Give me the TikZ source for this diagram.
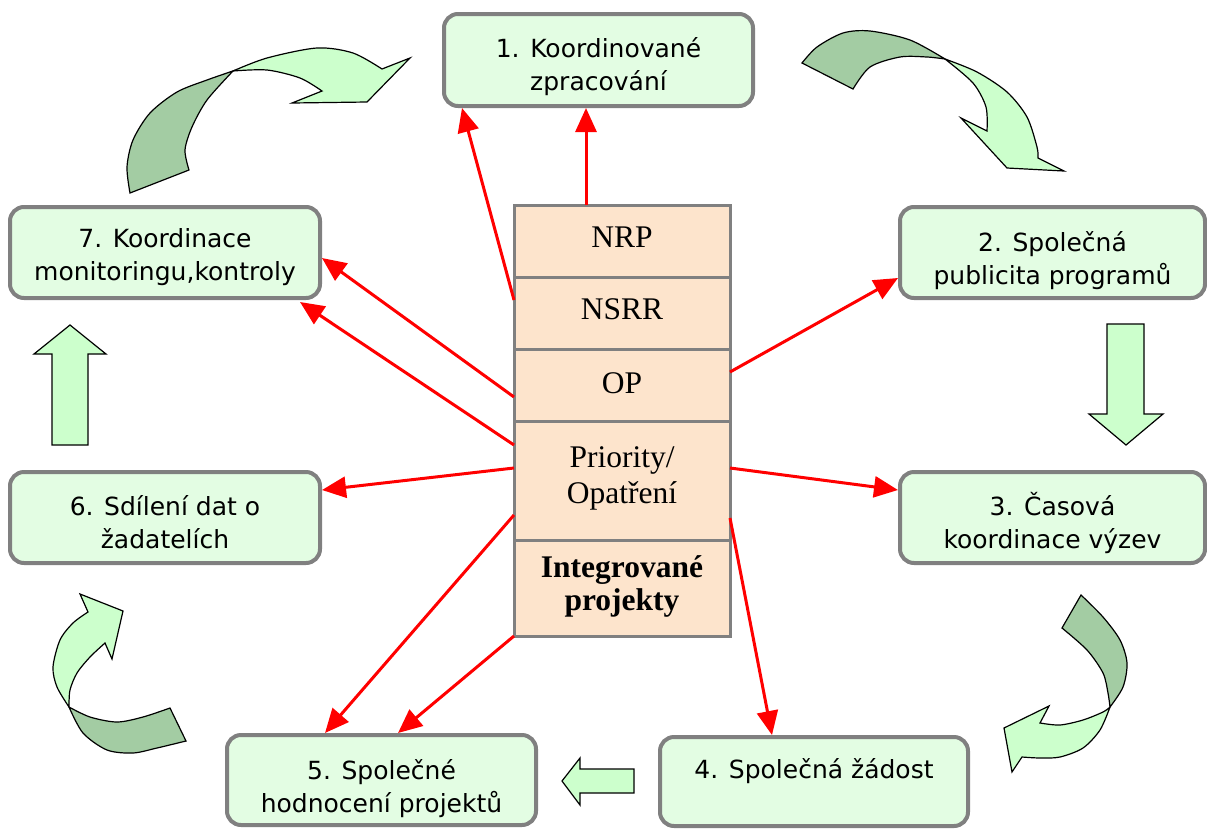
\documentclass[tikz,border=0pt]{standalone}
\usepackage{fontspec}
\setmainfont{Liberation Serif}
\newfontfamily\boxfont{DejaVu Sans}
\usetikzlibrary{arrows.meta}
\definecolor{boxfill}{HTML}{E3FDE3}
\definecolor{boxgray}{HTML}{808080}
\definecolor{peach}{HTML}{FDE4CC}
\definecolor{lightgr}{HTML}{CCFFCC}
\definecolor{darkgr}{HTML}{A3CCA3}
\definecolor{redline}{HTML}{FF0000}
\begin{document}
\begin{tikzpicture}[x=1pt,y=-1pt,
  box/.style={draw=boxgray, line width=4pt, rounded corners=14pt, fill=boxfill, inner sep=0pt, outer sep=0pt},
  lbl/.style={font=\boxfont\fontsize{25}{32.5}\selectfont, align=center, anchor=base, inner sep=0pt},
  stk/.style={draw=boxgray, line width=3pt, fill=peach, minimum width=216pt, inner sep=0pt, outer sep=0pt},
  stl/.style={font=\fontsize{31.5}{36}\selectfont, align=center, anchor=base, inner sep=0pt},
  red/.style={draw=redline, line width=3pt, -{Triangle[length=24pt,width=21pt]}},
  blk/.style={draw=black, line width=1.2pt, fill=lightgr, line join=miter},
  blkd/.style={draw=black, line width=1.2pt, fill=darkgr, line join=miter}
]
\useasboundingbox (0,0) rectangle (1207,828);

% boxes
\node[box, minimum width=309pt, minimum height=92pt] (b1) at (598.5,60) {};
\node[box, minimum width=305pt, minimum height=91pt] (b2) at (1052.5,252.5) {};
\node[box, minimum width=305pt, minimum height=91pt] (b3) at (1052.5,517.5) {};
\node[box, minimum width=308pt, minimum height=89pt] (b4) at (814,781.5) {};
\node[box, minimum width=309pt, minimum height=90pt] (b5) at (381.5,780) {};
\node[box, minimum width=310pt, minimum height=91pt] (b6) at (165,517.5) {};
\node[box, minimum width=310pt, minimum height=91pt] (b7) at (165,252.5) {};

\node[lbl] (t1) at (598.5,90) {1. Koordinované\\zpracování};
\node[lbl] (t2) at (1052.5,284) {2. Společná\\publicita programů};
\node[lbl] (t3) at (1052.5,548) {3. Časová\\koordinace výzev};
\node[lbl] (t4) at (814,778) {4. Společná žádost};
\node[lbl] (t5) at (381.5,812) {5. Společné\\hodnocení projektů};
\node[lbl] (t6) at (165,548) {6. Sdílení dat o\\žadatelích};
\node[lbl] (t7) at (165,280) {7. Koordinace\\monitoringu,kontroly};

% stack
\node[stk, minimum height=72pt] (r1) at (622,241) {};
\node[stk, minimum height=72pt] (r2) at (622,313) {};
\node[stk, minimum height=72pt] (r3) at (622,385) {};
\node[stk, minimum height=119pt] (r4) at (622,480.5) {};
\node[stk, minimum height=96pt] (r5) at (622,588) {};
\node[stl] (s1) at (622,247) {NRP};
\node[stl] (s2) at (622,319) {NSRR};
\node[stl] (s3) at (622,393) {OP};
\node[stl] (s4) at (622,503) {Priority/\\Opatření};
\node[stl, font=\bfseries\fontsize{31.5}{33}\selectfont] (s5) at (622,610) {Integrované\\projekty};

% red connectors
\draw[red] ([xshift=-36pt]r1.north) -- ([xshift=-12.5pt,yshift=-2pt]b1.south);
\draw[red] ([yshift=-23pt]r2.north west) -- ([xshift=18pt,yshift=-2pt]b1.south west);
\draw[red] ([yshift=-48pt]r3.north west) -- ([xshift=2pt,yshift=-5.5pt]b7.east);
\draw[red] ([yshift=-24pt]r4.north west) -- ([xshift=-20pt,yshift=-4pt]b7.south east);
\draw[red] ([yshift=-47pt]r4.north west) -- ([xshift=2pt,yshift=27.5pt]b6.east);
\draw[red] ([yshift=-94pt]r4.north west) -- ([xshift=98pt,yshift=2pt]b5.north west);
\draw[red] (r5.south west) -- ([xshift=171pt,yshift=2pt]b5.north west);
\draw[red] ([yshift=-23pt]r3.north east) -- ([xshift=-2pt,yshift=-25.5pt]b2.west);
\draw[red] ([yshift=-47pt]r4.north east) -- ([xshift=-2pt,yshift=27.5pt]b3.west);
\draw[red] ([yshift=-97pt]r4.north east) -- ([xshift=112pt,yshift=2pt]b4.north west);

% straight block arrows
\draw[blk] (1107,324) -- (1144,324) -- (1144,414) -- (1163,414) -- (1126,445) -- (1089,414) -- (1107,414) -- cycle;
\draw[blk] (52,445) -- (88,445) -- (88,354) -- (106,354) -- (70,325) -- (34,354) -- (52,354) -- cycle;
\draw[blk] (634,769) -- (634,793) -- (580,793) -- (580,805) -- (562,781) -- (580,758) -- (580,769) -- cycle;

% curved arrow top-left
\draw[blkd] (130,193) -- plot[smooth] coordinates {(130,193) (127,167) (133,140) (150,113) (177,92) (207,80) (233,71)}
  -- plot[smooth] coordinates {(233,71) (207,100) (192,127) (185,150) (189,170)} -- cycle;
\draw[blk] plot[smooth] coordinates {(233,71) (267,58) (317,48) (353,53) (382,69)}
  -- (410,58) -- (367,102) -- (292,103) -- (322,91)
  -- plot[smooth] coordinates {(322,91) (300,78) (267,70) (233,71)} -- cycle;

% curved arrow top-right
\draw[blkd] plot[smooth] coordinates {(802,63) (817,47) (843,33) (870,31) (910,40) (945,59)}
  -- plot[smooth] coordinates {(945,59) (927,57) (900,57) (870,67) (853,89)} -- cycle;
\draw[blk] plot[smooth] coordinates {(945,59) (977,72) (1007,92) (1027,117) (1037,147) (1038,158)}
  -- (1064,171) -- (1007,168) -- (961,118) -- (987,131)
  -- plot[smooth] coordinates {(987,131) (986,107) (973,83) (945,59)} -- cycle;

% curved arrow bottom-right
\draw[blkd] plot[smooth] coordinates {(1081,595) (1103,617) (1120,640) (1127,663) (1123,687) (1110,707)}
  -- plot[smooth] coordinates {(1110,707) (1108,693) (1103,673) (1087,650) (1062,628)} -- cycle;
\draw[blk] plot[smooth] coordinates {(1110,707) (1100,730) (1083,748) (1060,757) (1040,758) (1022,757)}
  -- (1012,772) -- (1004,728) -- (1049,706) -- (1040,723)
  -- plot[smooth] coordinates {(1040,723) (1060,725) (1083,720) (1103,712) (1110,707)} -- cycle;

% curved arrow bottom-left
\draw[blkd] plot[smooth] coordinates {(186,741) (157,748) (133,753) (107,750) (83,733) (69,707)}
  -- plot[smooth] coordinates {(69,707) (90,717) (117,722) (143,717) (170,708)} -- cycle;
\draw[blk] plot[smooth] coordinates {(69,707) (57,687) (53,667) (60,640) (73,623) (88,612)}
  -- (80,594) -- (123,611) -- (112,659) -- (105,643)
  -- plot[smooth] coordinates {(105,643) (90,657) (77,673) (70,690) (69,707)} -- cycle;
\end{tikzpicture}
\end{document}
